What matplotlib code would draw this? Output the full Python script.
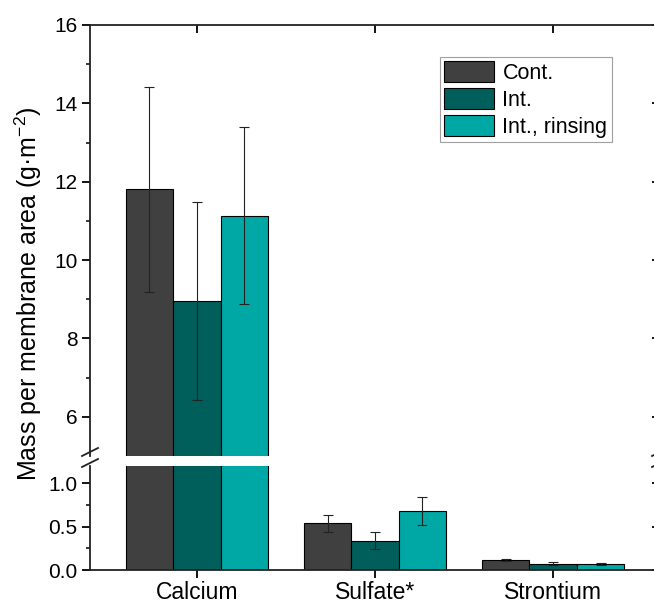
import matplotlib
matplotlib.use("Agg")
import matplotlib.pyplot as plt
import numpy as np
from matplotlib.patches import Patch

plt.rcParams['font.family'] = ['Liberation Sans', 'DejaVu Sans']
plt.rcParams['mathtext.default'] = 'regular'

categories = ["Calcium", "Sulfate*", "Strontium"]
labels = ["Cont.", "Int.", "Int., rinsing"]
means = {
    "Cont.": [11.81, 0.54, 0.12],
    "Int.": [8.96, 0.34, 0.075],
    "Int., rinsing": [11.13, 0.68, 0.068],
}
errs = {
    "Cont.": [2.62, 0.10, 0.012],
    "Int.": [2.52, 0.10, 0.012],
    "Int., rinsing": [2.26, 0.16, 0.012],
}
colors = ["#404040", "#005e5b", "#00a8a5"]

W, H = 654, 606
fig = plt.figure(figsize=(W / 100, H / 100), dpi=100)

def px_box(x0, y0, x1, y1):
    # pixel box (top-left origin) -> figure fraction rect
    return [x0 / W, 1 - y1 / H, (x1 - x0) / W, (y1 - y0) / H]

ax_top = fig.add_axes(px_box(90, 25, 660, 456))
ax_bot = fig.add_axes(px_box(90, 466, 660, 570))

x = np.arange(1, len(categories) + 1)
width = 0.266
for ax in (ax_top, ax_bot):
    for i, lab in enumerate(labels):
        pos = x + (i - 1) * width
        ax.bar(pos, means[lab], width=width, color=colors[i], edgecolor="black", linewidth=0.8, zorder=2)
        ax.errorbar(pos, means[lab], yerr=errs[lab], fmt="none", ecolor="#222222",
                    elinewidth=0.8, capsize=3.5, capthick=0.8, zorder=3)
    ax.set_xlim(0.4, 3.6)
    for s in ax.spines.values():
        s.set_linewidth(1.3)
        s.set_color("#222222")

ax_top.set_ylim(5, 16)
ax_top.set_yticks([6, 8, 10, 12, 14, 16])
ax_top.set_yticks([7, 9, 11, 13, 15], minor=True)
ax_top.spines["bottom"].set_visible(False)
ax_top.set_xticks(x)
ax_top.tick_params(axis="x", bottom=False, top=True, labelbottom=False, direction="in", length=6, width=1.3)

ax_bot.set_ylim(0, 1.2)
ax_bot.set_yticks([0, 0.5, 1.0])
ax_bot.set_yticklabels(["0.0", "0.5", "1.0"])
ax_bot.set_yticks([0.25, 0.75], minor=True)
ax_bot.spines["top"].set_visible(False)
ax_bot.set_xticks(x)
ax_bot.set_xticklabels(categories, fontsize=16.5)
ax_bot.tick_params(axis="x", direction="out", length=6, width=1.3, pad=2)

for ax in (ax_top, ax_bot):
    ax.tick_params(axis="y", which="major", direction="out", length=6, width=1.3, labelsize=15, pad=3)
    ax.tick_params(axis="y", which="minor", direction="out", length=3, width=1.1)
    sec = ax.secondary_yaxis("right")
    sec.set_yticks(ax.get_yticks())
    sec.set_yticks(ax.get_yticks(minor=True), minor=True)
    sec.tick_params(which="major", direction="in", length=6, width=1.3, labelright=False)
    sec.tick_params(which="minor", direction="in", length=3, width=1.1)
    sec.spines["right"].set_linewidth(1.3)

# break marks on both side spines
kw = dict(color="#222222", lw=1.3, clip_on=False, transform=fig.transFigure)
for xpx in (90, 660):
    xc = xpx / W
    for yc in (452, 463):
        fig.add_artist(plt.Line2D([xc - 8 / W, xc + 8 / W], [1 - (yc + 4) / H, 1 - (yc - 4) / H], **kw))

handles = [Patch(facecolor=c, edgecolor="black", linewidth=0.8) for c in colors]
leg = ax_top.legend(handles, labels, loc="upper left", bbox_to_anchor=(0.614, 0.9265), borderaxespad=0,
                    fontsize=15.5, fancybox=False, handlelength=2.3, handleheight=1.1, labelspacing=0.2,
                    handletextpad=0.4, borderpad=0.2)
leg.get_frame().set_edgecolor("#888888")
leg.get_frame().set_linewidth(0.8)

fig.text(0.043, 0.515, "Mass per membrane area (g·m$^{-2}$)", rotation=90, ha="center", va="center", fontsize=18)

fig.savefig("out.png", dpi=100)
